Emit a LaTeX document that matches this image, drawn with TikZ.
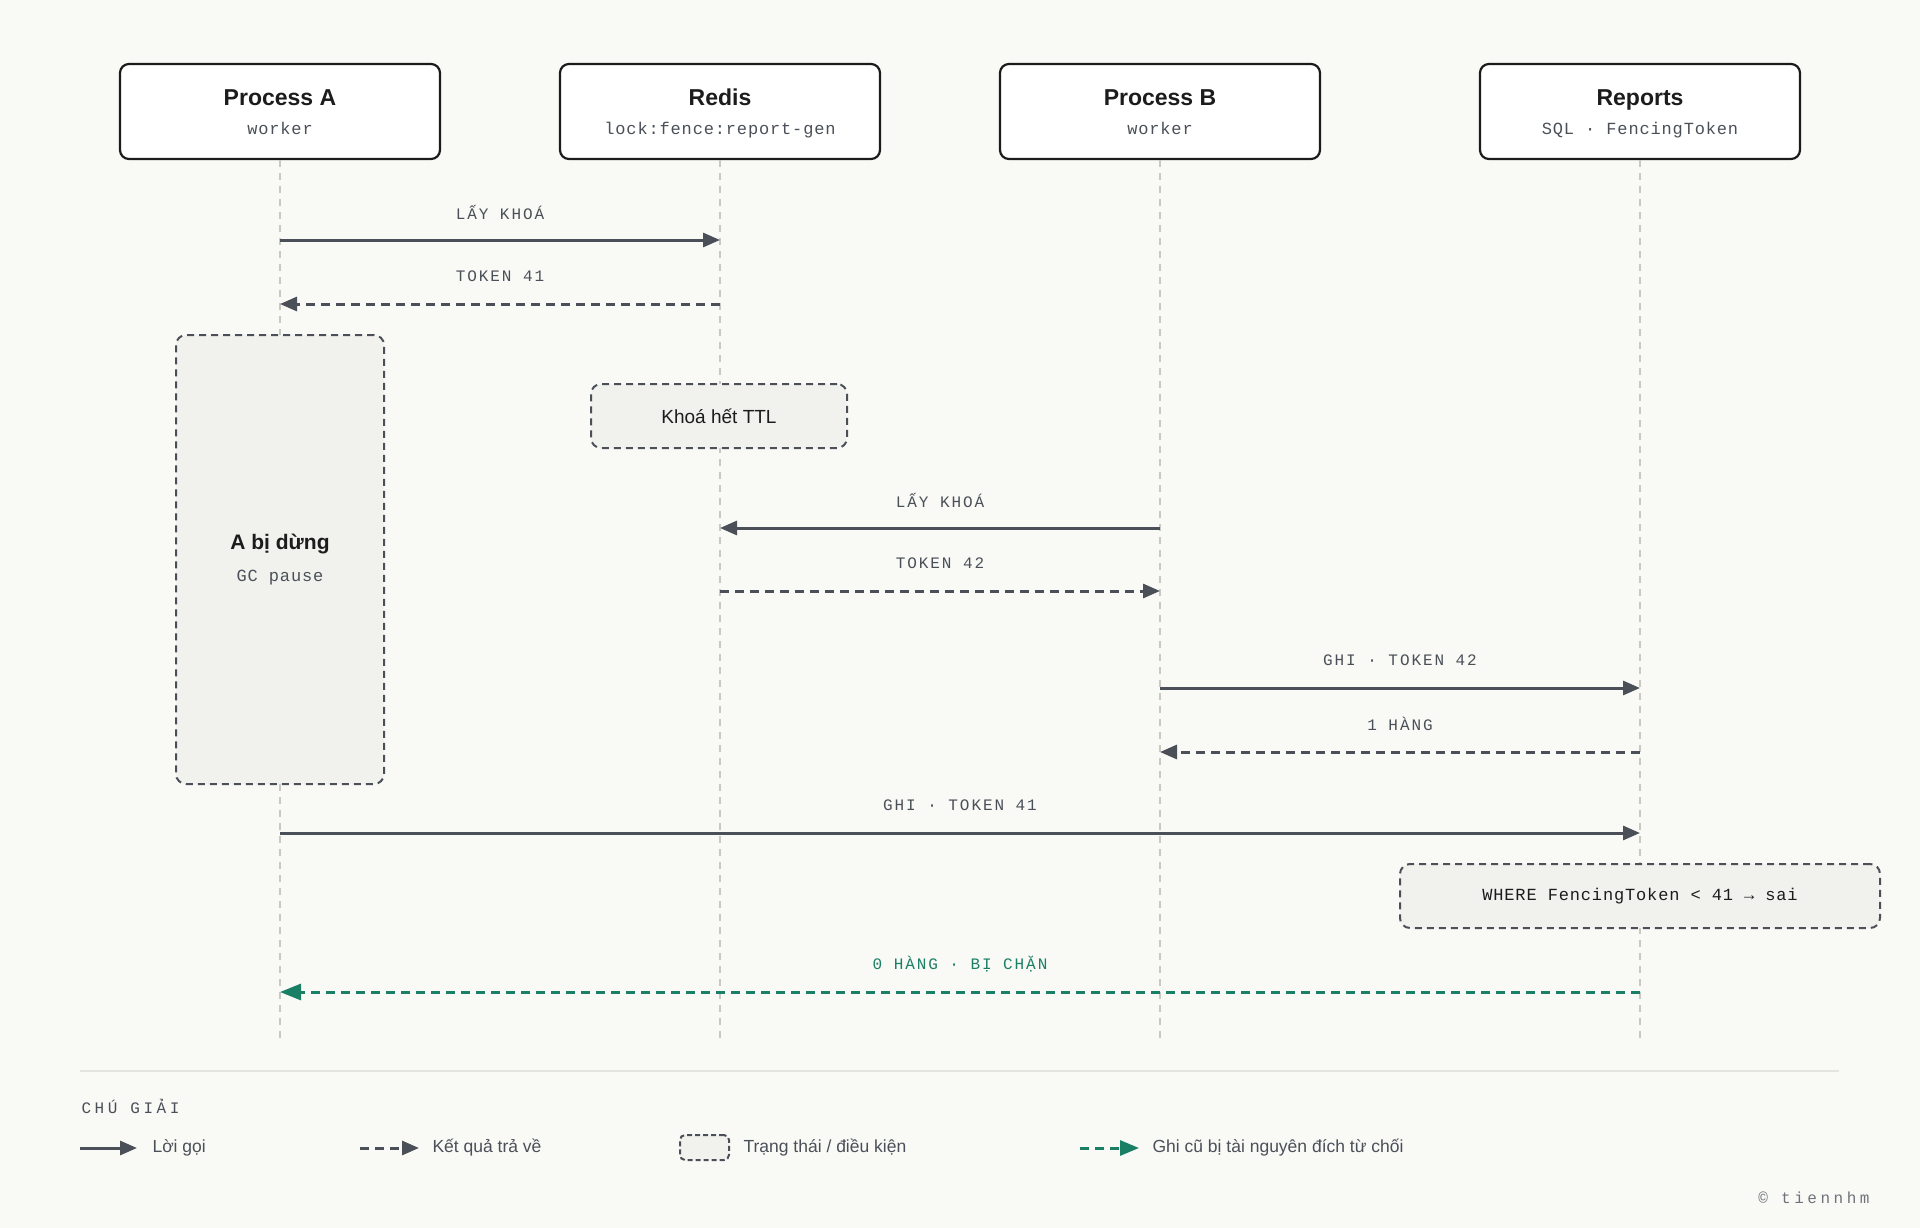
\documentclass[tikz,border=0pt]{standalone}
\usepackage{fontspec}
\setmainfont{Liberation Sans}
\newfontfamily\subfont[LetterSpace=5]{Liberation Mono}
\newfontfamily\lblfont[LetterSpace=12]{Liberation Mono}
\newfontfamily\capfont[LetterSpace=22]{Liberation Mono}
\usetikzlibrary{arrows.meta}

\definecolor{bgcol}{HTML}{F9F9F6}
\definecolor{ink}{HTML}{1C1C1C}
\definecolor{msggrey}{HTML}{4B5058}
\definecolor{lifegrey}{HTML}{C9C9C4}
\definecolor{statefill}{HTML}{F1F1EE}
\definecolor{okgreen}{HTML}{1B7F66}
\definecolor{sepgrey}{HTML}{E4E4DF}

\begin{document}
\begin{tikzpicture}[x=1pt,y=-1pt,
  actor/.style={draw=ink, line width=2.2pt, rounded corners=9pt, fill=white,
    minimum width=320pt, minimum height=95pt},
  title/.style={anchor=base, font=\fontsize{23}{26}\selectfont\bfseries, text=ink},
  sub/.style={anchor=base, font=\subfont\fontsize{17}{20}\selectfont, text=msggrey},
  lifeline/.style={draw=lifegrey, line width=1.5pt, dash pattern=on 7pt off 6pt},
  call/.style={draw=msggrey, line width=3pt, -{Triangle[length=17pt,width=14pt]}},
  reply/.style={call, dash pattern=on 9pt off 6pt},
  blocked/.style={draw=okgreen, line width=3pt, dash pattern=on 9pt off 6pt,
    -{Triangle[length=21pt,width=16pt]}},
  lbl/.style={midway, yshift=28pt, font=\lblfont\fontsize{16}{19}\selectfont, text=msggrey},
  state/.style={draw=msggrey, fill=statefill, line width=2pt, rounded corners=10pt,
    dash pattern=on 7pt off 5pt},
  legtxt/.style={anchor=west, font=\fontsize{17.5}{20}\selectfont, text=msggrey}
]
  \fill[bgcol] (0,0) rectangle (1920,1228);
  \useasboundingbox (0,0) rectangle (1920,1228);

  % participants
  \node (pa) [actor] at (280,111.5) {};
  \node (rd) [actor] at (720,111.5) {};
  \node (pb) [actor] at (1160,111.5) {};
  \node (rp) [actor] at (1640,111.5) {};
  \node [title] at (280,106) {Process A};
  \node [sub] at (280,135) {worker};
  \node [title] at (720,106) {Redis};
  \node [sub] at (720,135) {lock:fence:report-gen};
  \node [title] at (1160,106) {Process B};
  \node [sub] at (1160,135) {worker};
  \node [title] at (1640,106) {Reports};
  \node [sub] at (1640,135) {SQL · FencingToken};

  % lifelines
  \coordinate (pa-end) at (280,1041);
  \coordinate (rd-end) at (720,1041);
  \coordinate (pb-end) at (1160,1041);
  \coordinate (rp-end) at (1640,1041);
  \draw[lifeline] (pa.south) -- (pa-end);
  \draw[lifeline] (rd.south) -- (rd-end);
  \draw[lifeline] (pb.south) -- (pb-end);
  \draw[lifeline] (rp.south) -- (rp-end);

  % states
  \node (pause) [state, minimum width=208pt, minimum height=449pt] at (280,559.5) {};
  \node [font=\fontsize{21}{24}\selectfont\bfseries, text=ink] at (280,544) {A bị dừng};
  \node [sub, anchor=center] at (280,578) {GC pause};
  \node (ttl) [state, minimum width=256pt, minimum height=64pt,
    font=\fontsize{19}{22}\selectfont, text=ink] at (719,416) {Khoá hết TTL};

  % messages
  \coordinate (a1) at (280,240); \coordinate (r1) at (720,240);
  \draw[call] (a1) -- node[lbl] {LẤY KHOÁ} (r1);
  \coordinate (a2) at (280,304); \coordinate (r2) at (720,304);
  \draw[reply] (r2) -- node[lbl] {TOKEN 41} (a2);
  \coordinate (b3) at (1160,528); \coordinate (r3) at (720,528);
  \draw[call] (b3) -- node[lbl] {LẤY KHOÁ} (r3);
  \coordinate (r4) at (720,591); \coordinate (b4) at (1160,591);
  \draw[reply] (r4) -- node[lbl] {TOKEN 42} (b4);
  \coordinate (b5) at (1160,688); \coordinate (p5) at (1640,688);
  \draw[call] (b5) -- node[lbl] {GHI · TOKEN 42} (p5);
  \coordinate (p6) at (1640,752); \coordinate (b6) at (1160,752);
  \draw[reply] (p6) -- node[lbl] {1 HÀNG} (b6);
  \coordinate (a7) at (280,833); \coordinate (p7) at (1640,833);
  \draw[call] (a7) -- node[lbl] {GHI · TOKEN 41} (p7);

  \node (where) [state, minimum width=480pt, minimum height=64pt,
    font=\subfont\fontsize{17}{20}\selectfont, text=ink] at (1640,896)
    {WHERE FencingToken < 41 → sai};

  \coordinate (p8) at (1640,992); \coordinate (a8) at (280,992);
  \draw[blocked] (p8) -- node[lbl, text=okgreen] {0 HÀNG · BỊ CHẶN} (a8);

  % legend
  \draw[sepgrey, line width=1.5pt] (80,1071) -- (1839,1071);
  \node [anchor=west, font=\capfont\fontsize{16}{19}\selectfont, text=msggrey] at (78,1106) {CHÚ GIẢI};
  \coordinate (l1a) at (80,1148); \coordinate (l1b) at (137,1148);
  \draw[call] (l1a) -- (l1b);
  \node [legtxt] at (149,1148) {Lời gọi};
  \coordinate (l2a) at (360,1148); \coordinate (l2b) at (419,1148);
  \draw[reply] (l2a) -- (l2b);
  \node [legtxt] at (429,1148) {Kết quả trả về};
  \node (lbox) [state, rounded corners=5pt, minimum width=49pt, minimum height=25pt,
    dash pattern=on 5pt off 3pt] at (704.5,1147.5) {};
  \node [legtxt] at (740,1148) {Trạng thái / điều kiện};
  \coordinate (l3a) at (1080,1148); \coordinate (l3b) at (1139,1148);
  \draw[blocked, -{Triangle[length=19pt,width=15pt]}] (l3a) -- (l3b);
  \node [legtxt] at (1149,1148) {Ghi cũ bị tài nguyên đích từ chối};

  \node [anchor=east, font=\capfont\fontsize{16}{19}\selectfont, text=msggrey!80] at (1873,1198) {© tiennhm};
\end{tikzpicture}
\end{document}
